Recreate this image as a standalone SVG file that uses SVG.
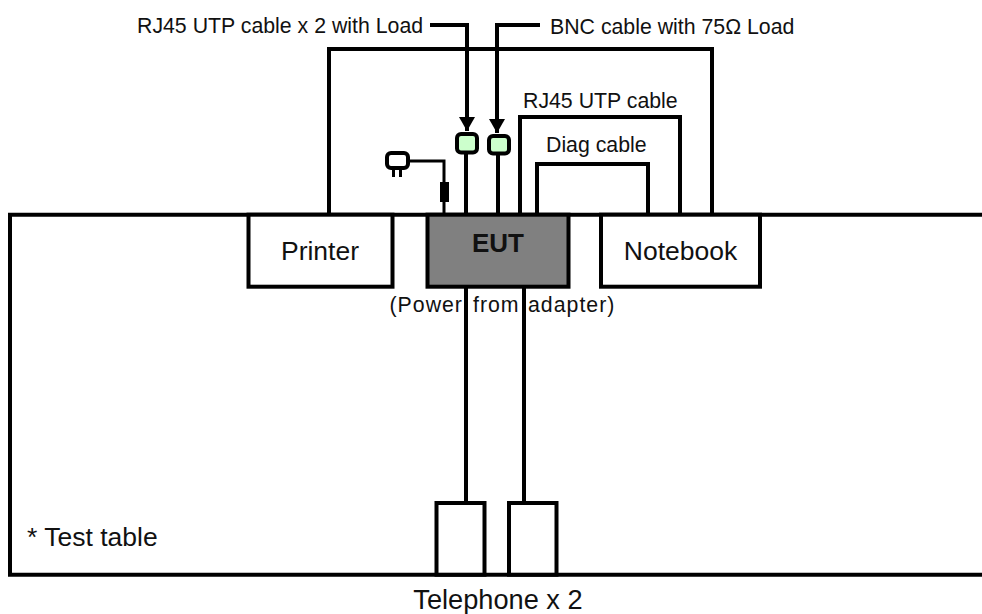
<svg xmlns="http://www.w3.org/2000/svg" width="982" height="614" viewBox="0 0 982 614">
<style>
text{font-family:"Liberation Sans",Arial,sans-serif;fill:#111}
.l{fill:none;stroke:#000;stroke-width:4}
.b{fill:#fff;stroke:#000;stroke-width:4}
.t{font-size:21.3px}
.n{font-size:26.500px}
.k{fill:#ccffcc;stroke:#000;stroke-width:4}
</style>
<defs><marker id="a" markerUnits="userSpaceOnUse" markerWidth="16" markerHeight="16" refX="14" refY="8" orient="auto"><path d="M0 0L14 8L0 16z" fill="#000"/></marker></defs>
<g id="table"><path class="l" d="M982 214.700H10V574.700H982"/></g>
<g id="connectors">
<path class="l" d="M329 214V49H712V214"/>
<path class="l" d="M520 214V117H680V214"/>
<path class="l" d="M537 214V164H648V214"/>
<path class="l" d="M466 214V150"/>
<path class="l" d="M498 214V150"/>
<path class="l" style="stroke-width:3" d="M444 214V161H408"/>
<path class="l" d="M466 286V503"/>
<path class="l" d="M524 286V503"/>
<path class="l" d="M430 25H467V131" marker-end="url(#a)"/>
<path class="l" d="M540 25H497V133" marker-end="url(#a)"/>
</g>
<g id="ferrite"><rect x="440" y="182" width="9" height="20" fill="#000"/></g>
<g id="plug"><rect x="387" y="153" width="21" height="15" rx="4" class="b"/><path class="l" style="stroke-width:3" d="M393.500 169V177M400.500 169V177"/></g>
<g id="load1"><rect x="457" y="134" width="20" height="18.500" rx="4" class="k"/></g>
<g id="load2"><rect x="489" y="136" width="20" height="17.500" rx="4" class="k"/></g>
<g id="printer"><rect x="248.500" y="214.700" width="144" height="72" class="b"/><text class="n" x="320" y="260" text-anchor="middle">Printer</text></g>
<g id="notebook"><rect x="601" y="214.700" width="159" height="72" class="b"/><text class="n" x="680.500" y="260" text-anchor="middle">Notebook</text></g>
<g id="eut"><rect x="427.500" y="214.700" width="141" height="72" fill="#808080" stroke="#000" stroke-width="4"/><text x="498" y="252" style="font-size:26px;font-weight:bold" text-anchor="middle">EUT</text></g>
<g id="tel1"><rect x="436.500" y="503" width="48" height="71.700" class="b"/></g>
<g id="tel2"><rect x="509" y="503" width="47.500" height="71.700" class="b"/></g>
<g id="labels">
<text class="t" x="137" y="33">RJ45 UTP cable x 2 with Load</text>
<text class="t" x="550" y="34">BNC cable with 75Ω Load</text>
<text class="t" x="523" y="108">RJ45 UTP cable</text>
<text class="t" x="546" y="152">Diag cable</text>
<text class="t" x="389.500" y="312" style="letter-spacing:1px">(Power</text>
<text class="t" x="473" y="312" style="letter-spacing:1px">from</text>
<text class="t" x="528" y="312" style="letter-spacing:1px">adapter)</text>
<text class="n" x="27" y="546">* Test table</text>
<text x="498" y="609" style="font-size:27.200px" text-anchor="middle">Telephone x 2</text>
</g>
</svg>
